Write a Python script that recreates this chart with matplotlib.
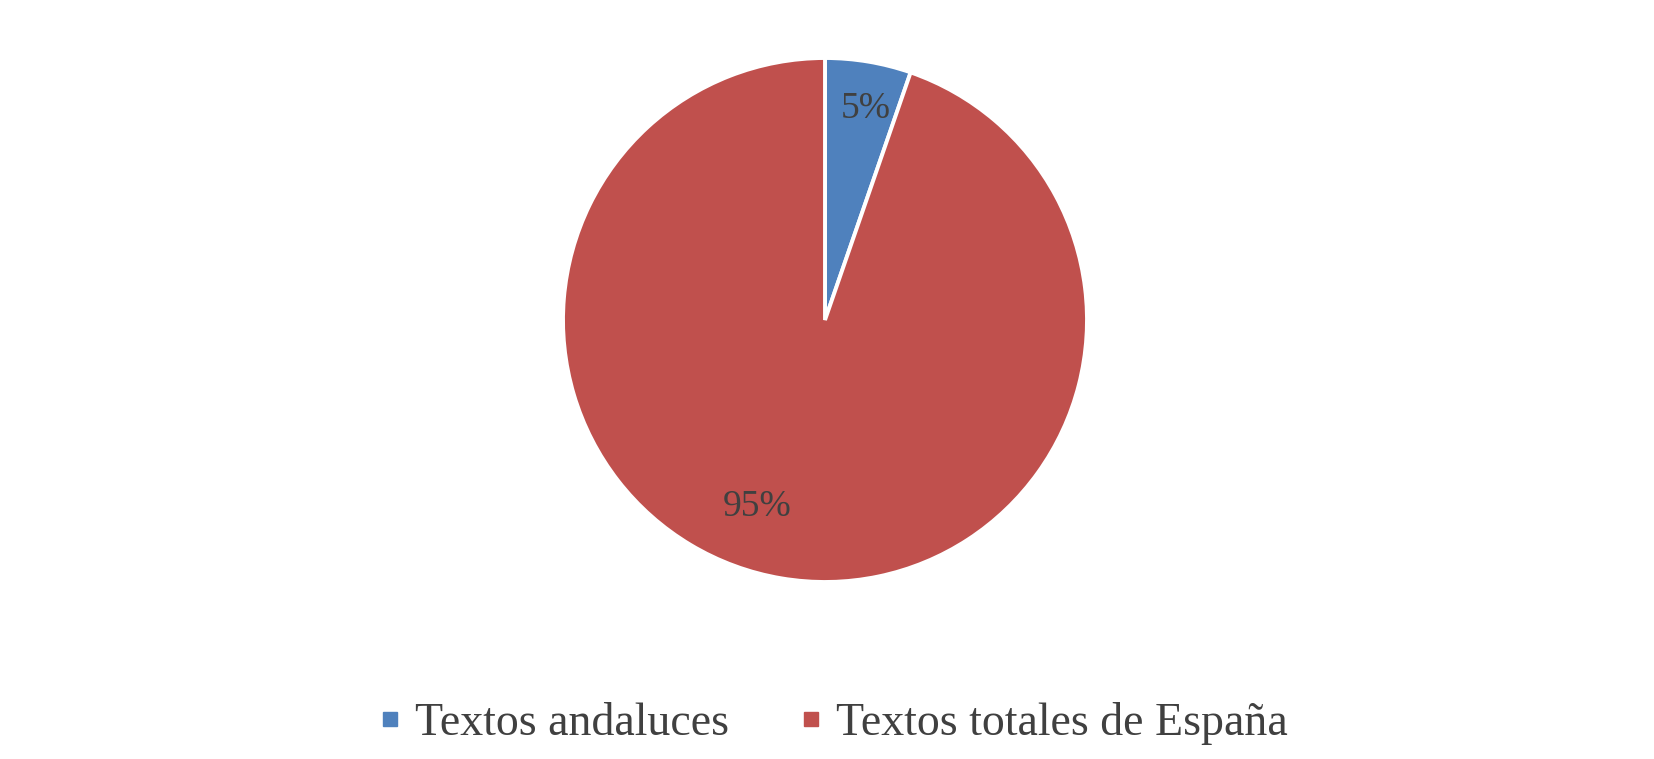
import matplotlib
matplotlib.use("Agg")
import matplotlib.pyplot as plt
from matplotlib.lines import Line2D
import numpy as np

categories = ["Textos andaluces", "Textos totales de España"]
values = [5.3, 94.7]
labels_pct = ["5%", "95%"]
colors = ["#4F81BD", "#C0504D"]

W, H = 1654, 759
fig = plt.figure(figsize=(W / 100, H / 100), dpi=100)
cx, cy, r = 825, 320, 262
ax = fig.add_axes([(cx - r) / W, (H - cy - r) / H, 2 * r / W, 2 * r / H])

wedges, _ = ax.pie(values, colors=colors, startangle=90, counterclock=False,
                   radius=1.0, wedgeprops=dict(edgecolor="white", linewidth=2.8))
ax.set_xlim(-1, 1)
ax.set_ylim(-1, 1)
ax.set_aspect("equal")
ax.axis("off")

serif = ["Liberation Serif", "DejaVu Serif"]
# label placement (distance as fraction of radius, angle in degrees)
label_pos = [(0.82, 79.0), (0.76, 250.0)]
for lab, (d, ang) in zip(labels_pct, label_pos):
    a = np.deg2rad(ang)
    ax.text(d * np.cos(a), d * np.sin(a), lab, ha="center", va="center",
            fontsize=27, family=serif, color="#404040")

handles = [Line2D([0], [0], marker="s", linestyle="none", markersize=10,
                  markerfacecolor=c, markeredgecolor=c) for c in colors]
fig.legend(handles, categories, loc="center", bbox_to_anchor=(0.503, 0.047),
           ncol=2, frameon=False, prop=dict(family=serif, size=33),
           labelcolor="#404040", handlelength=0.6, handletextpad=0.25,
           columnspacing=1.5)

fig.savefig("out.png", dpi=100, facecolor="white")
